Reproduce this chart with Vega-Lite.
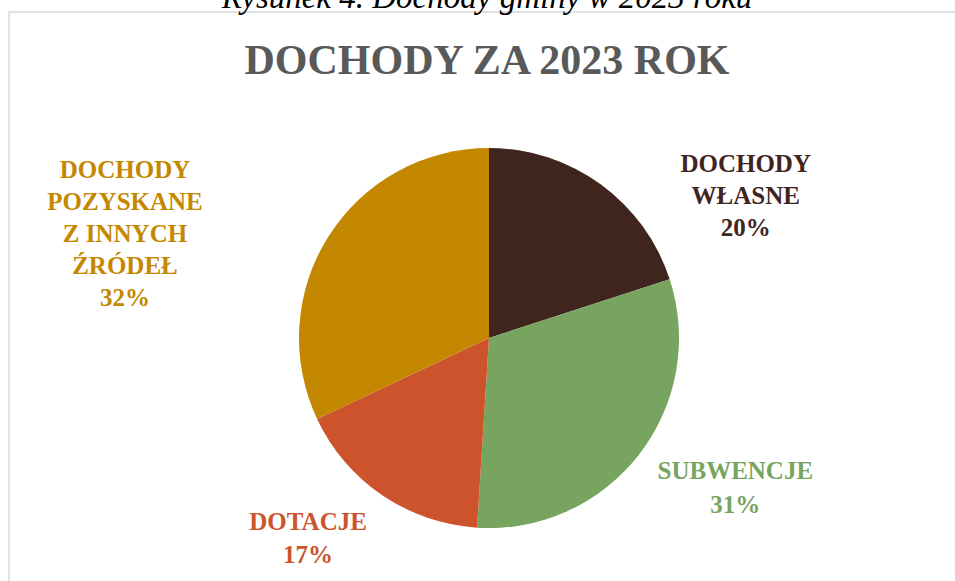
{
  "$schema": "https://vega.github.io/schema/vega-lite/v6.json",
  "width": 956,
  "height": 582,
  "autosize": {"type": "none"},
  "padding": {"left": 9, "top": 12, "right": -10, "bottom": -13},
  "background": "white",
  "view": {"stroke": "#d9d9d9", "strokeWidth": 1.5, "fill": "white"},
  "title": {
    "text": "Rysunek 4. Dochody gminy w 2023 roku",
    "subtitle": "DOCHODY ZA 2023 ROK",
    "anchor": "middle",
    "offset": -70,
    "dx": 0,
    "font": "Liberation Serif",
    "fontStyle": "italic",
    "fontWeight": "normal",
    "fontSize": 33,
    "color": "#000000",
    "subtitleFont": "Liberation Serif",
    "subtitleFontWeight": "bold",
    "subtitleFontSize": 42,
    "subtitleColor": "#595959",
    "subtitlePadding": 26
  },
  "data": {
    "values": [
      {"idx": 1, "kategoria": "Dochody własne", "udzial": 20, "etykieta": "DOCHODY\nWŁASNE\n20%"},
      {"idx": 2, "kategoria": "Subwencje", "udzial": 31, "etykieta": "SUBWENCJE\n31%"},
      {"idx": 3, "kategoria": "Dotacje", "udzial": 17, "etykieta": "DOTACJE\n17%"},
      {"idx": 4, "kategoria": "Dochody pozyskane z innych źródeł", "udzial": 32, "etykieta": "DOCHODY\nPOZYSKANE\nZ INNYCH\nŹRÓDEŁ\n32%"}
    ]
  },
  "transform": [
    {"stack": "udzial", "groupby": [], "sort": [{"field": "idx", "order": "ascending"}], "as": ["t0", "t1"]}
  ],
  "encoding": {
    "theta": {"field": "t0", "type": "quantitative", "scale": {"domain": [0, 100]}},
    "theta2": {"field": "t1"},
    "color": {
      "field": "kategoria",
      "type": "nominal",
      "scale": {
        "domain": ["Dochody własne", "Subwencje", "Dotacje", "Dochody pozyskane z innych źródeł"],
        "range": ["#40241e", "#77a55f", "#cd532c", "#c48800"]
      },
      "legend": null
    }
  },
  "layer": [
    {"mark": {"type": "arc", "outerRadius": 190, "xOffset": 2, "yOffset": 35}},
    {
      "transform": [{"filter": "datum.idx == 1"}],
      "mark": {"type": "text", "radius": 310, "thetaOffset": 0.9756, "xOffset": 2, "yOffset": 35, "font": "Liberation Serif", "fontWeight": "bold", "fontSize": 25, "lineHeight": 32, "lineBreak": "\n", "align": "center", "baseline": "middle"},
      "encoding": {"text": {"field": "etykieta"}}
    },
    {
      "transform": [{"filter": "datum.idx == 2"}],
      "mark": {"type": "text", "radius": 280, "thetaOffset": 0.8098, "xOffset": 2, "yOffset": 35, "font": "Liberation Serif", "fontWeight": "bold", "fontSize": 25, "lineHeight": 34, "lineBreak": "\n", "align": "center", "baseline": "middle"},
      "encoding": {"text": {"field": "etykieta"}}
    },
    {
      "transform": [{"filter": "datum.idx == 3"}],
      "mark": {"type": "text", "radius": 258, "thetaOffset": 0.7144, "xOffset": 2, "yOffset": 35, "font": "Liberation Serif", "fontWeight": "bold", "fontSize": 25, "lineHeight": 33, "lineBreak": "\n", "align": "center", "baseline": "middle"},
      "encoding": {"text": {"field": "etykieta"}}
    },
    {
      "transform": [{"filter": "datum.idx == 4"}],
      "mark": {"type": "text", "radius": 401, "thetaOffset": 0.8727, "xOffset": 2, "yOffset": 35, "font": "Liberation Serif", "fontWeight": "bold", "fontSize": 25, "lineHeight": 32, "lineBreak": "\n", "align": "center", "baseline": "middle"},
      "encoding": {"text": {"field": "etykieta"}}
    }
  ]
}
